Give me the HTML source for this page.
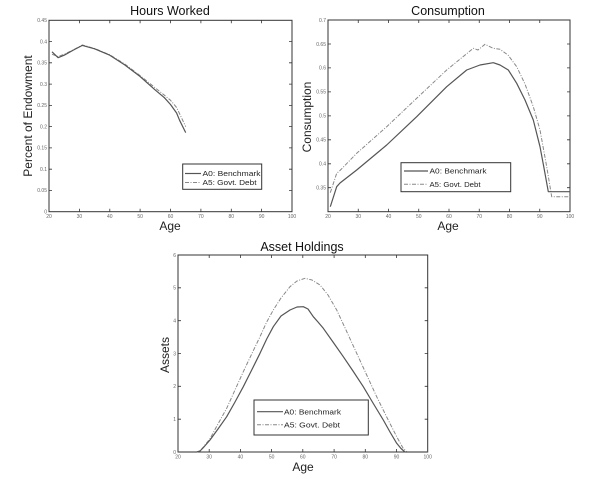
<!DOCTYPE html>
<html><head><meta charset="utf-8"><style>
html,body{margin:0;padding:0;background:#fff;}
svg{display:block;}
text{font-family:"Liberation Sans",Arial,sans-serif;}
.t{font-size:5px;fill:#666;}
.ti{font-size:12.5px;fill:#111;}
.lb{font-size:12px;fill:#222;}
.lg{font-size:7.5px;fill:#222;}
.ax{fill:none;stroke:#333;stroke-width:1;}
.tk{stroke:#333;stroke-width:0.8;}
.s{fill:none;stroke:#555;stroke-width:1.2;stroke-linejoin:round;}
.d{fill:none;stroke:#888;stroke-width:1;stroke-dasharray:4,1.5,1,1.5;stroke-linejoin:round;}
</style></head><body>
<svg width="600" height="486" viewBox="0 0 600 486" xmlns="http://www.w3.org/2000/svg">
<rect width="600" height="486" fill="#fff"/>

<!-- Panel 1: Hours Worked -->
<text class="ti" x="170" y="15" text-anchor="middle">Hours Worked</text>
<rect class="ax" x="49" y="20.3" width="243" height="191.4"/>
<g class="tk">
<path d="M79.4 211.7v-3M109.8 211.7v-3M140.1 211.7v-3M170.5 211.7v-3M200.9 211.7v-3M231.3 211.7v-3M261.6 211.7v-3
M79.4 20.3v3M109.8 20.3v3M140.1 20.3v3M170.5 20.3v3M200.9 20.3v3M231.3 20.3v3M261.6 20.3v3
M49 190.4h3M49 169.2h3M49 147.9h3M49 126.6h3M49 105.4h3M49 84.1h3M49 62.8h3M49 41.6h3
M292 190.4h-3M292 169.2h-3M292 147.9h-3M292 126.6h-3M292 105.4h-3M292 84.1h-3M292 62.8h-3M292 41.6h-3"/>
</g>
<g class="t" text-anchor="middle">
<text x="49" y="218">20</text><text x="79.4" y="218">30</text><text x="109.8" y="218">40</text><text x="140.1" y="218">50</text><text x="170.5" y="218">60</text><text x="200.9" y="218">70</text><text x="231.3" y="218">80</text><text x="261.6" y="218">90</text><text x="292" y="218">100</text>
</g>
<g class="t" text-anchor="end">
<text x="47" y="213.5">0</text><text x="47" y="192.2">0.05</text><text x="47" y="171">0.1</text><text x="47" y="149.7">0.15</text><text x="47" y="128.4">0.2</text><text x="47" y="107.2">0.25</text><text x="47" y="85.9">0.3</text><text x="47" y="64.6">0.35</text><text x="47" y="43.4">0.4</text><text x="47" y="22.1">0.45</text>
</g>
<text class="lb" x="170" y="230" text-anchor="middle">Age</text>
<text class="lb" transform="translate(32,116) rotate(-90)" text-anchor="middle">Percent of Endowment</text>
<polyline class="d" points="52,54.3 58.1,56.5 64.2,54.3 73.3,49.8 82.4,45 94.6,48.5 109.8,54.8 124.9,64.1 140.1,75.6 155.3,87.9 164.4,95.2 170.5,100.3 176.6,107.5 182.7,120.3 185.7,126.6"/>
<polyline class="s" points="52,51.8 58.1,57.7 64.2,55.2 73.3,50.1 82.4,45.4 94.6,48.8 109.8,55.2 124.9,65 140.1,76.5 155.3,90.1 164.4,97.7 170.5,104.5 176.6,113 179.6,120.3 185.7,132.6"/>
<rect x="182.7" y="164" width="79" height="25.3" fill="#fff" stroke="#333" stroke-width="1"/>
<line x1="185" y1="173.5" x2="201" y2="173.5" class="s"/>
<line x1="185" y1="182.5" x2="201" y2="182.5" class="d"/>
<text class="lg" x="202.5" y="176" textLength="58" lengthAdjust="spacingAndGlyphs">A0: Benchmark</text>
<text class="lg" x="202.5" y="185" textLength="54" lengthAdjust="spacingAndGlyphs">A5: Govt. Debt</text>

<!-- Panel 2: Consumption -->
<text class="ti" x="448" y="15" text-anchor="middle">Consumption</text>
<rect class="ax" x="328" y="20" width="242" height="191.7"/>
<g class="tk">
<path d="M358.25 211.7v-3M388.5 211.7v-3M418.75 211.7v-3M449 211.7v-3M479.25 211.7v-3M509.5 211.7v-3M539.75 211.7v-3
M358.25 20v3M388.5 20v3M418.75 20v3M449 20v3M479.25 20v3M509.5 20v3M539.75 20v3
M328 187.7h3M328 163.8h3M328 139.8h3M328 115.9h3M328 91.9h3M328 67.9h3M328 44h3
M570 187.7h-3M570 163.8h-3M570 139.8h-3M570 115.9h-3M570 91.9h-3M570 67.9h-3M570 44h-3"/>
</g>
<g class="t" text-anchor="middle">
<text x="328" y="218">20</text><text x="358.25" y="218">30</text><text x="388.5" y="218">40</text><text x="418.75" y="218">50</text><text x="449" y="218">60</text><text x="479.25" y="218">70</text><text x="509.5" y="218">80</text><text x="539.75" y="218">90</text><text x="570" y="218">100</text>
</g>
<g class="t" text-anchor="end">
<text x="326" y="189.5">0.35</text><text x="326" y="165.6">0.4</text><text x="326" y="141.6">0.45</text><text x="326" y="117.7">0.5</text><text x="326" y="93.7">0.55</text><text x="326" y="69.7">0.6</text><text x="326" y="45.8">0.65</text><text x="326" y="21.8">0.7</text>
</g>
<text class="lb" x="448" y="230" text-anchor="middle">Age</text>
<text class="lb" transform="translate(311,117) rotate(-90)" text-anchor="middle">Consumption</text>
<polyline class="d" points="330.3,192.7 336.7,173.3 340,170.5 356.7,153.3 386.7,126.7 416.7,98.3 446.7,70 473.3,48.3 478,50 485,44.3 493.3,48.3 500,49.3 508,55 516.7,66.7 525,84 533.3,106.7 540,130 546.7,166.7 551.7,196.7 570,196.7"/>
<polyline class="s" points="330.3,206.7 336.7,186.7 340,183 356.7,170 386.7,145 416.7,116.7 446.7,86.7 466.7,70 480,65 493.3,62.7 500,65 508.3,70 516.7,83.3 525,100 533.3,120 540,146.7 544,168 548.3,191.7 570,191.7"/>
<rect x="401" y="162.7" width="109.7" height="29" fill="#fff" stroke="#333" stroke-width="1"/>
<line x1="404" y1="171" x2="428" y2="171" class="s"/>
<line x1="404" y1="184.3" x2="428" y2="184.3" class="d"/>
<text class="lg" x="429.5" y="173.7" textLength="57" lengthAdjust="spacingAndGlyphs">A0: Benchmark</text>
<text class="lg" x="429.5" y="187" textLength="51" lengthAdjust="spacingAndGlyphs">A5: Govt. Debt</text>

<!-- Panel 3: Asset Holdings -->
<text class="ti" x="302" y="251" text-anchor="middle">Asset Holdings</text>
<rect class="ax" x="178" y="255" width="249.7" height="197"/>
<g class="tk">
<path d="M209.2 452v-3M240.4 452v-3M271.6 452v-3M302.8 452v-3M334.1 452v-3M365.3 452v-3M396.5 452v-3
M209.2 255v3M240.4 255v3M271.6 255v3M302.8 255v3M334.1 255v3M365.3 255v3M396.5 255v3
M178 419.2h3M178 386.3h3M178 353.5h3M178 320.7h3M178 287.8h3
M427.7 419.2h-3M427.7 386.3h-3M427.7 353.5h-3M427.7 320.7h-3M427.7 287.8h-3"/>
</g>
<g class="t" text-anchor="middle">
<text x="178" y="458.5">20</text><text x="209.2" y="458.5">30</text><text x="240.4" y="458.5">40</text><text x="271.6" y="458.5">50</text><text x="302.8" y="458.5">60</text><text x="334.1" y="458.5">70</text><text x="365.3" y="458.5">80</text><text x="396.5" y="458.5">90</text><text x="427.7" y="458.5">100</text>
</g>
<g class="t" text-anchor="end">
<text x="176" y="453.8">0</text><text x="176" y="421">1</text><text x="176" y="388.1">2</text><text x="176" y="355.3">3</text><text x="176" y="322.5">4</text><text x="176" y="289.6">5</text><text x="176" y="256.8">6</text>
</g>
<text class="lb" x="303" y="471" text-anchor="middle">Age</text>
<text class="lb" transform="translate(169,355) rotate(-90)" text-anchor="middle">Assets</text>
<polyline class="d" points="178,452 196.7,452 200,451 203,447.5 210,438.7 218,424 226.7,408.3 235,390 243.3,371.7 251.7,354 260,336.7 266.7,322 273.3,310 281,298 290,286.7 297,281 305,278.3 312,280 320,285 328,295 336.7,310 346,330 356.7,353.3 366.7,375 376.7,396.7 386.7,417 396.7,436.7 403,448 407,452 427.7,452"/>
<polyline class="s" points="178,452 196.7,452 200,451 203,448 210,440 218,429 226.7,416.7 235,402 243.3,386.7 251.7,370 260,353.3 266.7,339 273.3,326.7 281,316 290,310 297,307 303.3,306.7 308,309 313.3,316.7 318,322 323.3,328.3 333,342 343.3,356.7 353,371 363.3,386.7 373,403 383.3,420 390,432 396.7,443.3 401,448.5 405,452 427.7,452"/>
<rect x="254" y="400" width="114.3" height="35" fill="#fff" stroke="#333" stroke-width="1"/>
<line x1="257" y1="411.7" x2="283" y2="411.7" class="s"/>
<line x1="257" y1="424.7" x2="283" y2="424.7" class="d"/>
<text class="lg" x="284" y="414.4" textLength="57" lengthAdjust="spacingAndGlyphs">A0: Benchmark</text>
<text class="lg" x="284" y="427.4" textLength="56" lengthAdjust="spacingAndGlyphs">A5: Govt. Debt</text>
</svg>
</body></html>
